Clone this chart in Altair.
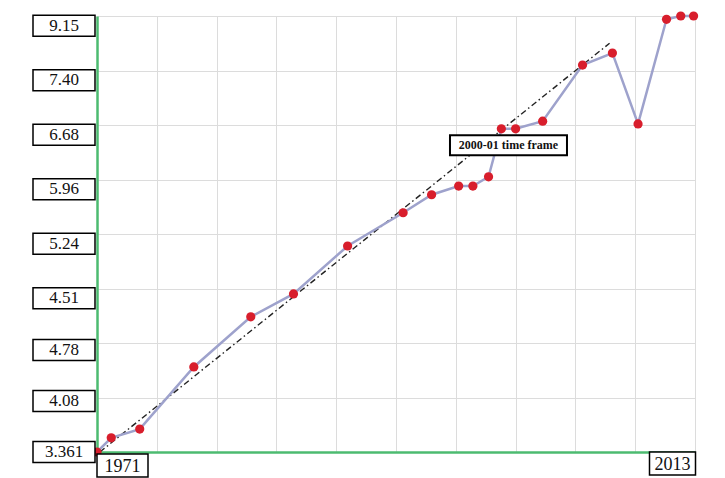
import altair as alt
import pandas as pd
import numpy as np

# ---- data ----
years = [1971, 1972, 1974, 1977.8, 1981.8, 1984.8, 1988.6, 1992.5, 1994.5, 1996.4,
         1997.4, 1998.5, 1999.4, 2000.4, 2002.3, 2005.1, 2007.2, 2009.0, 2011.0,
         2012.0, 2012.9]
# values expressed in axis-tick units (tick 0 = "3.361" ... tick 8 = "9.15")
values = [0.0, 0.26, 0.42, 1.56, 2.48, 2.90, 3.78, 4.39, 4.72, 4.88,
          4.88, 5.05, 5.93, 5.93, 6.07, 7.10, 7.32, 6.02, 7.94, 8.0, 8.0]

y_tick_labels = ["3.361", "4.08", "4.78", "4.51", "5.24", "5.96", "6.68", "7.40", "9.15"]
y_tick_idx = list(range(len(y_tick_labels)))

x_start, x_end = 1971, 2013
x_end_labels = ["1971", "2013"]

trend_years = [1971.2, 2007.0]
trend_values = [0.0, 7.5]

note_text = ["2000-01 time frame"]
note_year = [1999.9]
note_value = [5.63]

# ---- styling ----
GREEN = "#4cbb70"
GRID = "#dcdcdc"
SERIF = "Liberation Serif"

x_grid = [float(v) for v in np.linspace(x_start, x_end, 11)]

xscale = alt.Scale(domain=[x_start, x_end], nice=False, zero=False)
yscale = alt.Scale(domain=[0, 8], nice=False, zero=False)

df = pd.DataFrame({"year": years, "value": values})
df_trend = pd.DataFrame({"year": trend_years, "value": trend_values})
df_ylab = pd.DataFrame({"idx": y_tick_idx, "label": y_tick_labels})
df_note = pd.DataFrame({"year": note_year, "value": note_value, "text": note_text})

x_axis = alt.Axis(values=x_grid, labels=False, ticks=False, title=None, grid=True,
                  gridColor=GRID, gridWidth=1, domainColor=GREEN, domainWidth=2.5)
y_axis = alt.Axis(values=y_tick_idx, labels=False, ticks=False, title=None, grid=True,
                  gridColor=GRID, gridWidth=1, domainColor=GREEN, domainWidth=2.5)


def X(field="year:Q"):
    return alt.X(field, scale=xscale, axis=x_axis)


def Y(field="value:Q"):
    return alt.Y(field, scale=yscale, axis=y_axis)


trend = alt.Chart(df_trend).mark_line(
    color="#222222", strokeWidth=1.4, strokeDash=[6, 3, 1.5, 3]
).encode(x=X(), y=Y())

line = alt.Chart(df).mark_line(color="#9ea2cc", strokeWidth=2.5).encode(x=X(), y=Y())

points = alt.Chart(df).mark_circle(size=85, color="#d81e2c", opacity=1).encode(x=X(), y=Y())

# y tick label boxes
ylab_base = alt.Chart(df_ylab).transform_calculate(
    ly="datum.idx - min(datum.idx * 0.065, 0.18)"
)
ylab_box = ylab_base.mark_rect(height=21, fill="white", stroke="black", strokeWidth=1.5).encode(
    x=alt.value(-64), x2=alt.value(-2), y=Y("ly:Q"),
)
ylab_text = ylab_base.mark_text(font=SERIF, fontSize=17, align="center", baseline="middle",
                                color="#111111").encode(
    x=alt.value(-33), y=Y("ly:Q"), text="label:N",
)

# x end label boxes
xl_layers = []
for lab, yr, xoff, yoff, w in [(x_end_labels[0], x_start, 25.5, 13.5, 51),
                               (x_end_labels[1], x_end, -22.5, 11.5, 46)]:
    d = pd.DataFrame({"year": [yr], "value": [0], "text": [lab]})
    box = alt.Chart(d).mark_rect(width=w, height=23, fill="white", stroke="black",
                                 strokeWidth=1.5, xOffset=xoff, yOffset=yoff).encode(x=X(), y=Y())
    txt = alt.Chart(d).mark_text(font=SERIF, fontSize=18, align="center", baseline="middle",
                                 color="#111111", dx=xoff, dy=yoff + 1).encode(
        x=X(), y=Y(), text="text:N")
    xl_layers += [box, txt]

note_box = alt.Chart(df_note).mark_rect(width=117, height=20, fill="white", stroke="black",
                                        strokeWidth=2).encode(x=X(), y=Y())
note_txt = alt.Chart(df_note).mark_text(font=SERIF, fontSize=12, fontWeight="bold",
                                        align="center", baseline="middle", color="#111111").encode(
    x=X(), y=Y(), text="text:N")

chart = alt.layer(
    trend, line, points, note_box, note_txt, ylab_box, ylab_text, *xl_layers
).properties(
    width=598, height=436,
    autosize=alt.AutoSizeParams(type="none"),
    padding={"left": 97, "top": 16, "right": 30, "bottom": 26},
    background="white",
).configure_view(stroke=None)

chart.save("out.html", embed_options={"renderer": "svg", "actions": False})
